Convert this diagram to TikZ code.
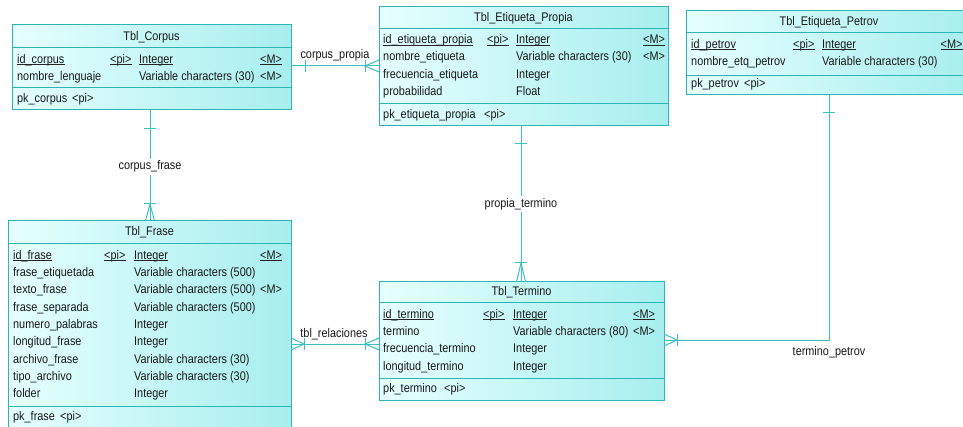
\documentclass[tikz,border=0pt]{standalone}
\usepackage{fontspec}
\setmainfont{Liberation Sans}[FakeStretch=0.87]
\usetikzlibrary{calc}
\definecolor{bord}{RGB}{45,180,180}
\definecolor{lnc}{RGB}{60,192,192}
\definecolor{fillL}{RGB}{230,255,255}
\definecolor{fillR}{RGB}{168,238,238}
\newcommand\cellA[4]{\node[cell] (#1) at (#2,#3) {#4};}
\newcommand\cellU[4]{\node[cell] (#1) at (#2,#3) {#4};
  \draw[ul] ([yshift=-1.5pt]#1.base west) -- ([yshift=-1.5pt]#1.base east);}
\newcommand\crowH[2]{\draw[rel] ($(#1)+(0,-6)$) -- ($(#1)+(#2,0)$) -- ($(#1)+(0,6)$);
  \draw[rel] ($(#1)+(#2,-6)$) -- ($(#1)+(#2,6)$);}
\newcommand\crowV[2]{\draw[rel] ($(#1)+(-4.5,0)$) -- ($(#1)+(0,#2)$) -- ($(#1)+(4.5,0)$);
  \draw[rel] ($(#1)+(-6,#2)$) -- ($(#1)+(6,#2)$);}
\newcommand\tickH[2]{\draw[rel] ($(#1)+(#2,-6)$) -- ($(#1)+(#2,6)$);}
\newcommand\tickV[2]{\draw[rel] ($(#1)+(-6,#2)$) -- ($(#1)+(6,#2)$);}
\begin{document}
\begin{tikzpicture}[x=1pt,y=-1pt,
  tbl/.style={draw=bord,line width=1pt,left color=fillL,right color=fillR,anchor=north west,inner sep=0pt,outer sep=0pt},
  sep/.style={draw=bord,line width=1pt},
  rel/.style={draw=lnc,line width=1pt},
  cell/.style={inner sep=0pt,anchor=base west,font=\fontsize{12.5}{14}\selectfont,text=black!90},
  ttl/.style={inner sep=0pt,anchor=base,font=\fontsize{12.5}{14}\selectfont,text=black!90},
  lbl/.style={inner sep=2pt,anchor=base,font=\fontsize{12.5}{14}\selectfont,text=black!90},
  ul/.style={draw=black!85,line width=0.8pt}]
\useasboundingbox (0,0) rectangle (963,427);
\clip (0,0) rectangle (963,427);

% ---------- Tbl_Corpus ----------
\node[tbl,minimum width=279pt,minimum height=85pt] (corpus) at (12,25) {};
\draw[sep] (corpus.west |- 0,48) -- (corpus.east |- 0,48);
\draw[sep] (corpus.west |- 0,88) -- (corpus.east |- 0,88);
\node[ttl] (corpusT) at (151.5,40.7) {Tbl\_Corpus};
\cellU{c1a}{17}{63.3}{id\_corpus}
\cellU{c1b}{110}{63.3}{<pi>}
\cellU{c1c}{139}{63.3}{Integer}
\cellU{c1d}{260}{63.3}{<M>}
\cellA{c2a}{17}{81}{nombre\_lenguaje}
\cellA{c2c}{139}{81}{Variable characters (30)}
\cellA{c2d}{260}{81}{<M>}
\cellA{c3a}{17}{102.3}{pk\_corpus}
\cellA{c3b}{72}{102.3}{<pi>}

% ---------- Tbl_Etiqueta_Propia ----------
\node[tbl,minimum width=289pt,minimum height=119pt] (propia) at (379,7) {};
\draw[sep] (propia.west |- 0,29) -- (propia.east |- 0,29);
\draw[sep] (propia.west |- 0,104) -- (propia.east |- 0,104);
\node[ttl] (propiaT) at (523.5,22) {Tbl\_Etiqueta\_Propia};
\cellU{p1a}{383}{43.7}{id\_etiqueta\_propia}
\cellU{p1b}{487}{43.7}{<pi>}
\cellU{p1c}{516}{43.7}{Integer}
\cellU{p1d}{643}{43.7}{<M>}
\cellA{p2a}{383}{61}{nombre\_etiqueta}
\cellA{p2c}{516}{61}{Variable characters (30)}
\cellA{p2d}{643}{61}{<M>}
\cellA{p3a}{383}{78.2}{frecuencia\_etiqueta}
\cellA{p3c}{516}{78.2}{Integer}
\cellA{p4a}{383}{95.4}{probabilidad}
\cellA{p4c}{516}{95.4}{Float}
\cellA{p5a}{383}{119}{pk\_etiqueta\_propia}
\cellA{p5b}{484}{119}{<pi>}

% ---------- Tbl_Etiqueta_Petrov ----------
\node[tbl,minimum width=286pt,minimum height=84pt] (petrov) at (686,11) {};
\draw[sep] (petrov.west |- 0,33) -- (petrov.east |- 0,33);
\draw[sep] (petrov.west |- 0,76) -- (petrov.east |- 0,76);
\node[ttl] (petrovT) at (829,25.7) {Tbl\_Etiqueta\_Petrov};
\cellU{e1a}{691}{48.3}{id\_petrov}
\cellU{e1b}{793}{48.3}{<pi>}
\cellU{e1c}{822}{48.3}{Integer}
\cellU{e1d}{940.5}{48.3}{<M>}
\cellA{e2a}{691}{65.3}{nombre\_etq\_petrov}
\cellA{e2c}{822}{65.3}{Variable characters (30)}
\cellA{e3a}{691}{87.3}{pk\_petrov}
\cellA{e3b}{744}{87.3}{<pi>}

% ---------- Tbl_Frase ----------
\node[tbl,minimum width=283pt,minimum height=211pt] (frase) at (8,221) {};
\draw[sep] (frase.west |- 0,244) -- (frase.east |- 0,244);
\draw[sep] (frase.west |- 0,406) -- (frase.east |- 0,406);
\node[ttl] (fraseT) at (149.5,236) {Tbl\_Frase};
\cellU{f1a}{13}{259.3}{id\_frase}
\cellU{f1b}{104}{259.3}{<pi>}
\cellU{f1c}{134}{259.3}{Integer}
\cellU{f1d}{260}{259.3}{<M>}
\cellA{f2a}{13}{276.6}{frase\_etiquetada}
\cellA{f2c}{134}{276.6}{Variable characters (500)}
\cellA{f3a}{13}{293.9}{texto\_frase}
\cellA{f3c}{134}{293.9}{Variable characters (500)}
\cellA{f3d}{260}{293.9}{<M>}
\cellA{f4a}{13}{311.2}{frase\_separada}
\cellA{f4c}{134}{311.2}{Variable characters (500)}
\cellA{f5a}{13}{328.5}{numero\_palabras}
\cellA{f5c}{134}{328.5}{Integer}
\cellA{f6a}{13}{345.8}{longitud\_frase}
\cellA{f6c}{134}{345.8}{Integer}
\cellA{f7a}{13}{363.1}{archivo\_frase}
\cellA{f7c}{134}{363.1}{Variable characters (30)}
\cellA{f8a}{13}{380.4}{tipo\_archivo}
\cellA{f8c}{134}{380.4}{Variable characters (30)}
\cellA{f9a}{13}{397.7}{folder}
\cellA{f9c}{134}{397.7}{Integer}
\cellA{f10a}{13}{420.7}{pk\_frase}
\cellA{f10b}{60}{420.7}{<pi>}

% ---------- Tbl_Termino ----------
\node[tbl,minimum width=285pt,minimum height=118pt] (termino) at (379,282) {};
\draw[sep] (termino.west |- 0,303) -- (termino.east |- 0,303);
\draw[sep] (termino.west |- 0,378) -- (termino.east |- 0,378);
\node[ttl] (terminoT) at (521.5,295.7) {Tbl\_Termino};
\cellU{t1a}{383}{318.3}{id\_termino}
\cellU{t1b}{483}{318.3}{<pi>}
\cellU{t1c}{513}{318.3}{Integer}
\cellU{t1d}{633}{318.3}{<M>}
\cellA{t2a}{383}{335.6}{termino}
\cellA{t2c}{513}{335.6}{Variable characters (80)}
\cellA{t2d}{633}{335.6}{<M>}
\cellA{t3a}{383}{352.9}{frecuencia\_termino}
\cellA{t3c}{513}{352.9}{Integer}
\cellA{t4a}{383}{370.2}{longitud\_termino}
\cellA{t4c}{513}{370.2}{Integer}
\cellA{t5a}{383}{392.3}{pk\_termino}
\cellA{t5b}{444}{392.3}{<pi>}

% ---------- corpus_propia ----------
\draw[rel] (corpus.east |- 0,66) coordinate (cpA) -- (propia.west |- 0,66) coordinate (cpB);
\tickH{cpA}{14}
\crowH{cpB}{-14}
\node[lbl] (cpL) at (335,59) {corpus\_propia};

% ---------- corpus_frase ----------
\draw[rel] (150,0 |- corpus.south) coordinate (cfA) -- (150,0 |- frase.north) coordinate (cfB);
\tickV{cfA}{19}
\crowV{cfB}{-17}
\node[lbl,fill=white] (cfL) at (150,170) {corpus\_frase};

% ---------- propia_termino ----------
\draw[rel] (521,0 |- propia.south) coordinate (ptA) -- (521,0 |- termino.north) coordinate (ptB);
\tickV{ptA}{18}
\crowV{ptB}{-19}
\node[lbl,fill=white] (ptL) at (521,207.3) {propia\_termino};

% ---------- tbl_relaciones ----------
\draw[rel] (frase.east |- 0,344) coordinate (trA) -- (termino.west |- 0,344) coordinate (trB);
\crowH{trA}{13}
\crowH{trB}{-14}
\node[lbl] (trL) at (334,337.7) {tbl\_relaciones};

% ---------- termino_petrov ----------
\coordinate (tpC) at (829,340);
\draw[rel] (829,0 |- petrov.south) coordinate (tpA) -- (tpC) -- (termino.east |- tpC) coordinate (tpB);
\tickV{tpA}{18}
\crowH{tpB}{13}
\node[lbl] (tpL) at (829,355.7) {termino\_petrov};
\end{tikzpicture}
\end{document}
